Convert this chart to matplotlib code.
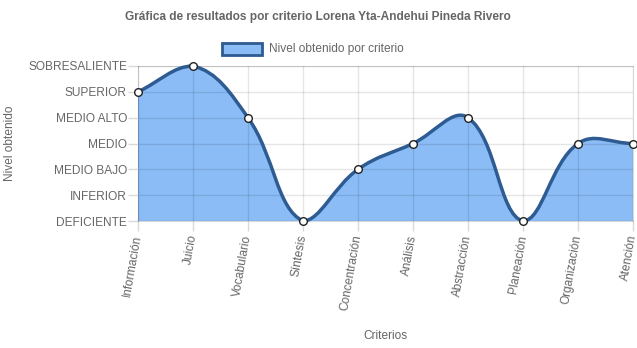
import matplotlib.pyplot as plt
import numpy as np
from matplotlib.path import Path
from matplotlib.patches import PathPatch

# === Data ===
criterios = ['Información', 'Juicio', 'Vocabulario', 'Síntesis', 'Concentración',
             'Análisis', 'Abstracción', 'Planeación', 'Organización', 'Atención']
niveles = ['DEFICIENTE', 'INFERIOR', 'MEDIO BAJO', 'MEDIO', 'MEDIO ALTO',
           'SUPERIOR', 'SOBRESALIENTE']
valores = [5, 6, 4, 0, 2, 3, 4, 0, 3, 3]

plt.rcParams['font.family'] = ['Liberation Sans', 'DejaVu Sans']

grey = '#666666'
fill_color = '#8bbcf6'
line_color = '#2d5b92'
fs = 8.6

fig = plt.figure(figsize=(6.37, 3.48), dpi=100)
ax = fig.add_axes([138 / 637, 1 - 221 / 348, (633 - 138) / 637, (221 - 66) / 348])
ax.set_xlim(0, len(criterios) - 1)
ax.set_ylim(0, len(niveles) - 1)

# --- smooth curve like Chart.js (tension 0.4), computed in pixel space ---
x = np.arange(len(valores))
pts = ax.transData.transform(np.column_stack([x, valores]))
bb = ax.bbox
t = 0.4
verts = [pts[0]]
ctrl = []
for i in range(len(pts)):
    prev = pts[i - 1] if i > 0 else pts[i]
    nxt = pts[i + 1] if i < len(pts) - 1 else pts[i]
    cur = pts[i]
    d01 = np.hypot(*(cur - prev))
    d12 = np.hypot(*(nxt - cur))
    tot = d01 + d12
    s01 = d01 / tot if tot else 0
    s12 = d12 / tot if tot else 0
    cp_prev = cur - t * s01 * (nxt - prev)
    cp_next = cur + t * s12 * (nxt - prev)
    for cp in (cp_prev, cp_next):
        cp[0] = min(max(cp[0], bb.x0), bb.x1)
        cp[1] = min(max(cp[1], bb.y0), bb.y1)
    ctrl.append((cp_prev, cp_next))
codes = [Path.MOVETO]
for i in range(1, len(pts)):
    verts += [ctrl[i - 1][1], ctrl[i][0], pts[i]]
    codes += [Path.CURVE4] * 3
verts = ax.transData.inverted().transform(np.array(verts))

curve = Path(verts, codes)
fill_verts = np.vstack([verts, [[x[-1], 0], [x[0], 0], verts[0]]])
fill_codes = codes + [Path.LINETO, Path.LINETO, Path.CLOSEPOLY]
ax.add_patch(PathPatch(Path(fill_verts, fill_codes), facecolor=fill_color,
                       edgecolor='none', zorder=1))
ax.add_patch(PathPatch(curve, facecolor='none', edgecolor=line_color,
                       linewidth=2.5, zorder=3, clip_on=False))
ax.plot(x, valores, 'o', markersize=5.5, markerfacecolor='white',
        markeredgecolor='#222222', markeredgewidth=1, zorder=4, clip_on=False)

# --- axes styling ---
ax.set_axisbelow('line')
ax.set_yticks(range(len(niveles)))
ax.set_yticklabels(niveles, fontsize=fs, color=grey)
ax.set_xticks(x)
ax.set_xticklabels(criterios, fontsize=fs, color=grey, rotation=80,
                   ha='right', va='center', rotation_mode='anchor')
ax.tick_params(axis='both', color='#d9d9d9', length=7, width=1)
ax.tick_params(axis='y', pad=1)
ax.tick_params(axis='x', pad=3)
ax.grid(True, color='black', alpha=0.1, linewidth=1)
for s in ax.spines.values():
    s.set_color('black')
    s.set_alpha(0.15)

fig.text(10 / 637, 1 - 143 / 348, 'Nivel obtenido', rotation=90, fontsize=fs,
         color=grey, ha='center', va='center')
fig.text(385 / 637, 1 - 336 / 348, 'Criterios', fontsize=fs, color=grey,
         ha='center', va='center')
fig.text(318 / 637, 1 - 17 / 348,
         'Gráfica de resultados por criterio Lorena Yta-Andehui Pineda Rivero',
         fontsize=fs, fontweight='bold', color=grey, ha='center', va='center')

# legend box
fig.patches.append(plt.Rectangle((222 / 637, 1 - 55 / 348), 40 / 637, 12 / 348,
                                 transform=fig.transFigure, facecolor=fill_color,
                                 edgecolor=line_color, linewidth=2))
fig.text(269 / 637, 1 - 49 / 348, 'Nivel obtenido por criterio', fontsize=fs,
         color=grey, ha='left', va='center')

fig.savefig('out.png', dpi=100)
